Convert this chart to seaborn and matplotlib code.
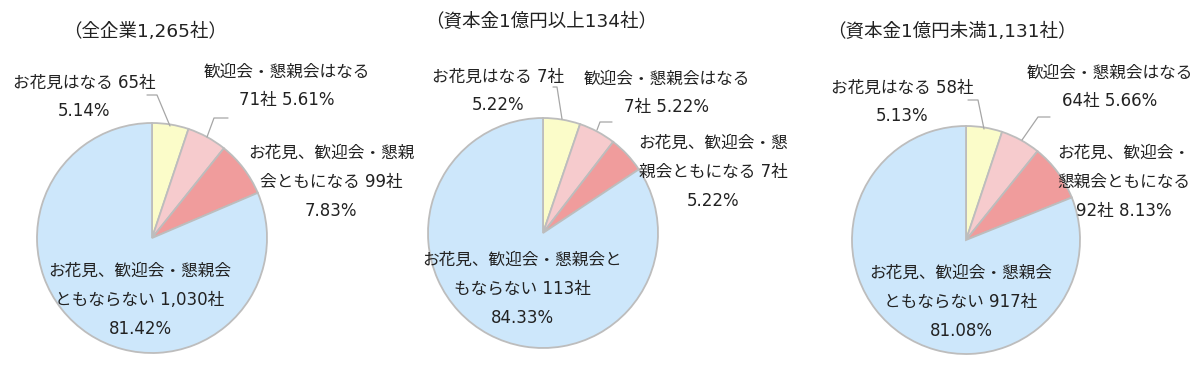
import matplotlib
matplotlib.use("Agg")
import matplotlib.pyplot as plt
import seaborn as sns

# ---------------- data ----------------
titles = ["（全企業1,265社）", "（資本金1億円以上134社）", "（資本金1億円未満1,131社）"]
categories = ["お花見はなる", "歓迎会・懇親会はなる", "お花見、歓迎会・懇親会ともになる", "お花見、歓迎会・懇親会ともならない"]
counts_all = [65, 71, 99, 1030]
counts_large = [7, 7, 7, 113]
counts_small = [58, 64, 92, 917]
pct_all = ["5.14%", "5.61%", "7.83%", "81.42%"]
pct_large = ["5.22%", "5.22%", "5.22%", "84.33%"]
pct_small = ["5.13%", "5.66%", "8.13%", "81.08%"]

labels_all = ["お花見はなる 65社\n5.14%",
              "歓迎会・懇親会はなる\n71社 5.61%",
              "お花見、歓迎会・懇親\n会ともになる 99社\n7.83%",
              "お花見、歓迎会・懇親会\nともならない 1,030社\n81.42%"]
labels_large = ["お花見はなる 7社\n5.22%",
                "歓迎会・懇親会はなる\n7社 5.22%",
                "お花見、歓迎会・懇\n親会ともになる 7社\n5.22%",
                "お花見、歓迎会・懇親会と\nもならない 113社\n84.33%"]
labels_small = ["お花見はなる 58社\n5.13%",
                "歓迎会・懇親会はなる\n64社 5.66%",
                "お花見、歓迎会・\n懇親会ともになる\n92社 8.13%",
                "お花見、歓迎会・懇親会\nともならない 917社\n81.08%"]

# ---------------- style ----------------
sns.set_theme(style="white")
plt.rcParams['font.family'] = ['DejaVu Sans', 'Noto Sans CJK JP']
colors = sns.color_palette(["#FBFCC9", "#F6CBCD", "#F09C9C", "#CDE7FB"])
edge = "#BDBDBD"
text_color = "#222222"

W, H = 1200, 374
fig = plt.figure(figsize=(W / 100, H / 100), dpi=100)
ax = fig.add_axes([0, 0, 1, 1])
ax.set_xlim(0, W)
ax.set_ylim(0, H)
ax.set_aspect("equal")
ax.axis("off")

def Y(y):
    return H - y

# layout (pixel positions, top-left origin)
pies = [
    dict(counts=counts_all, labels=labels_all, title=titles[0], center=(152, 238), r=115,
         title_xy=(145, 32),
         label_xy=[(84, 97), (287, 86), (331, 182), (140, 300)],
         leaders=[[(147, 95), (157, 95), (170, 126)], [(228, 118), (214, 118), (207, 137)]]),
    dict(counts=counts_large, labels=labels_large, title=titles[1], center=(543, 233), r=115,
         title_xy=(541, 22),
         label_xy=[(498, 91), (667, 93), (713, 172), (522, 289)],
         leaders=[[(553, 87), (557, 87), (562, 119)], [(612, 122), (600, 122), (597, 130)]]),
    dict(counts=counts_small, labels=labels_small, title=titles[2], center=(966, 240), r=114,
         title_xy=(952, 32),
         label_xy=[(902, 102), (1110, 87), (1124, 182), (961, 302)],
         leaders=[[(968, 100), (978, 100), (984, 129)], [(1050, 117), (1038, 117), (1022, 140)]]),
]

fs = 12
for p in pies:
    cx, cy = p["center"]
    ax.pie(p["counts"], colors=colors, startangle=90, counterclock=False,
           center=(cx, Y(cy)), radius=p["r"], frame=True,
           wedgeprops=dict(edgecolor=edge, linewidth=1.3))
    ax.text(p["title_xy"][0], Y(p["title_xy"][1]), p["title"], ha="center", va="center",
            fontsize=13.3, color=text_color)
    for lab, (lx, ly) in zip(p["labels"], p["label_xy"]):
        ax.text(lx, Y(ly), lab, ha="center", va="center", fontsize=fs,
                color=text_color, linespacing=1.78)
    for ld in p["leaders"]:
        ax.plot([q[0] for q in ld], [Y(q[1]) for q in ld], color="#A6A6A6", lw=0.9)

ax.set_xlim(0, W)
ax.set_ylim(0, H)
ax.axis("off")
fig.savefig("out.png", dpi=100, facecolor="white")
